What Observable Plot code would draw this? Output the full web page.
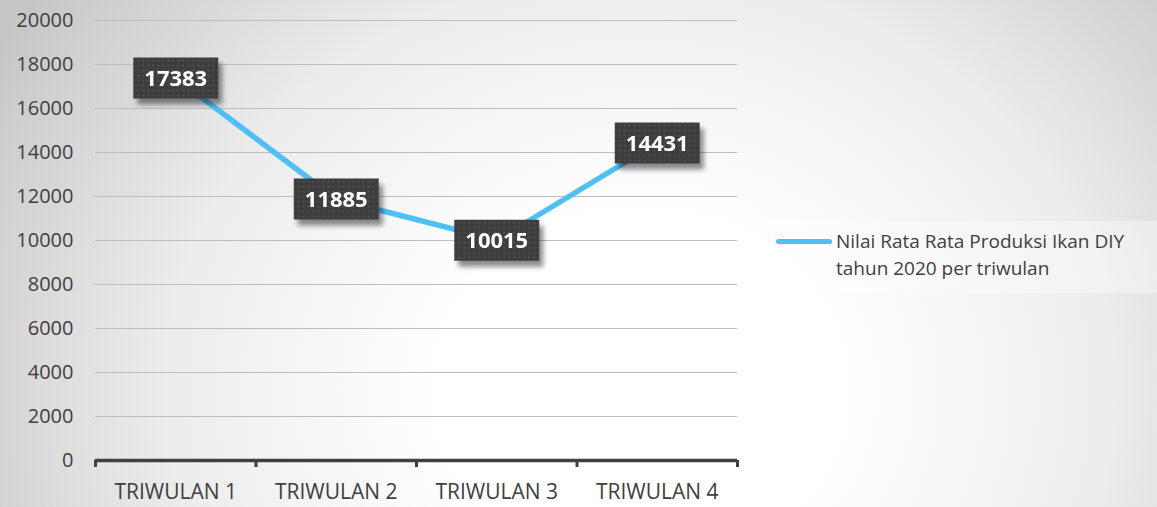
<!DOCTYPE html>
<html>
<head>
<meta charset="utf-8">
<script src="https://cdn.jsdelivr.net/npm/d3@7"></script>
<script src="https://cdn.jsdelivr.net/npm/@observablehq/plot@0.6"></script>
<style>
  html, body { margin: 0; padding: 0; }
  #wrap {
    position: relative; width: 1157px; height: 507px; overflow: hidden;
    background: radial-gradient(ellipse 820px 720px at 640px 390px, #ffffff 0%, #ffffff 25%, #ececec 58%, #c6c6c6 92%);
    font-family: "Open Sans", Lato, sans-serif;
  }
  #legend {
    position: absolute; left: 767px; top: 221px; width: 390px; height: 72px;
    background: rgba(255,255,255,0.35);
    color: #404040; font-size: 19px; line-height: 27px;
  }
  #legend .sw { position: absolute; left: 9px; top: 18px; width: 56px; height: 5px; border-radius: 3px; background: #4fc0f6; }
  #legend .tx { position: absolute; left: 69px; top: 7px; white-space: nowrap; }
</style>
</head>
<body>
<div id="wrap">
  <svg width="0" height="0" style="position:absolute">
    <defs>
      <pattern id="dots" width="5" height="5" patternUnits="userSpaceOnUse">
        <rect width="5" height="5" fill="#3d3d3d"></rect>
        <circle cx="2.5" cy="2.5" r="0.9" fill="#575757"></circle>
      </pattern>
      <filter id="blur" x="-20%" y="-20%" width="140%" height="140%">
        <feGaussianBlur stdDeviation="2.5"></feGaussianBlur>
      </filter>
    </defs>
  </svg>
  <div id="chart"></div>
  <div id="legend"><div class="sw"></div><div class="tx">Nilai Rata Rata Produksi Ikan DIY<br>tahun 2020 per triwulan</div></div>
</div>
<script>
const categories = ["TRIWULAN 1", "TRIWULAN 2", "TRIWULAN 3", "TRIWULAN 4"];
const values = [17383, 11885, 10015, 14431];
const yTicks = [0, 2000, 4000, 6000, 8000, 10000, 12000, 14000, 16000, 18000, 20000];
const seriesName = "Nilai Rata Rata Produksi Ikan DIY tahun 2020 per triwulan";

const data = categories.map((c, i) => ({ cat: c, pos: i + 1, value: values[i] }));
const boundaries = d3.range(categories.length + 1).map(i => i + 0.5);

const boxSymbol = { draw(ctx) { ctx.rect(-42.5, -20.5, 85, 41); } };

const chart = Plot.plot({
  width: 1157,
  height: 507,
  marginLeft: 95,
  marginRight: 420,
  marginTop: 20,
  marginBottom: 47,
  style: { background: "transparent", fontFamily: "'Open Sans', Lato, sans-serif", overflow: "visible" },
  x: { type: "linear", domain: [0.5, categories.length + 0.5] },
  y: { domain: [0, 20000] },
  marks: [
    Plot.gridY(yTicks.filter(t => t > 0), { stroke: "#bdbdbd", strokeOpacity: 1, strokeWidth: 1 }),
    Plot.axisY({ ticks: yTicks, tickSize: 0, tickPadding: 22, fontSize: 20, fill: "#404040", textAnchor: "end", label: null, tickFormat: d => String(d) }),
    Plot.axisX({ ticks: boundaries, tickSize: 7, tickFormat: () => "", stroke: "#404040", strokeWidth: 3, label: null }),
    Plot.axisX({ ticks: data.map(d => d.pos), tickSize: 0, tickPadding: 24, fontSize: 21, fill: "#404040", tickFormat: d => categories[d - 1], label: null }),
    Plot.ruleY([0], { stroke: "#404040", strokeWidth: 3.5 }),
    Plot.line(data, { x: "pos", y: "value", stroke: "#4fc0f6", strokeWidth: 5.5, strokeLinejoin: "round" }),
    Plot.dot(data, { x: "pos", y: "value", symbol: boxSymbol, fill: "#000", fillOpacity: 0.45, stroke: "none", dx: 4, dy: 6, r: 1, className: "shadow" }),
    Plot.dot(data, { x: "pos", y: "value", symbol: boxSymbol, fill: "url(#dots)", stroke: "none", r: 1 }),
    Plot.text(data, { x: "pos", y: "value", text: d => String(d.value), fill: "#ffffff", fontSize: 22, fontWeight: "bold", dy: 1 })
  ]
});
d3.select(chart).selectAll("g.shadow").attr("filter", "url(#blur)");
document.getElementById("chart").appendChild(chart);
</script>
</body>
</html>
